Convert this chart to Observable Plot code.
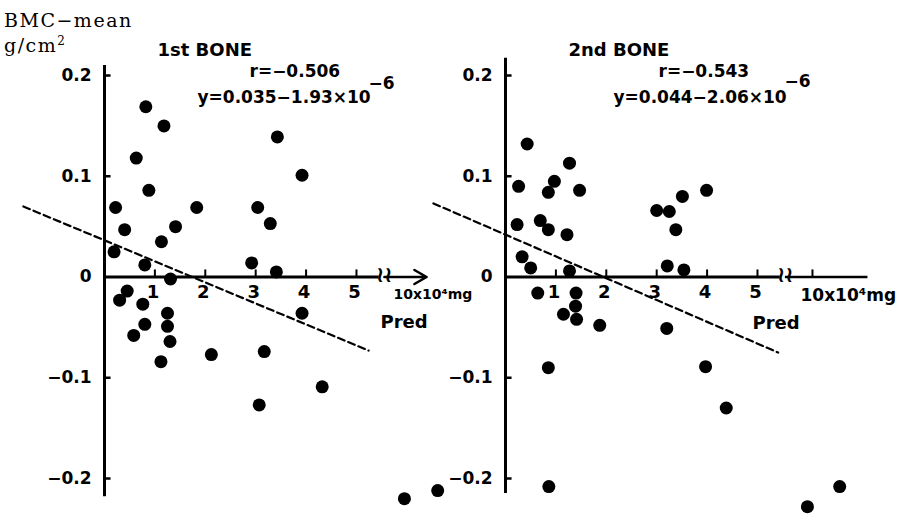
<!DOCTYPE html>
<html><head><meta charset="utf-8">
<script src="https://cdn.jsdelivr.net/npm/d3@7"></script>
<script src="https://cdn.jsdelivr.net/npm/@observablehq/plot@0.6"></script>
<style>
body{margin:0;background:#fff}
#wrap{position:relative;width:905px;height:515px;overflow:hidden;background:#fff}
#wrap svg{position:absolute;top:0;background:transparent;overflow:visible}
#ytitle{position:absolute;left:4px;top:8px;font-family:'DejaVu Serif','Liberation Serif',serif;font-size:19px;letter-spacing:1.5px;line-height:25px;color:#000;z-index:2}
#ytitle sup{font-size:12px;vertical-align:7px;line-height:0}
</style></head><body><div id="wrap"><div id="ytitle"></div></div>
<script>
// ---- text ----
const panelNames = ["1st BONE", "2nd BONE"];
const rLabels = ["r=−0.506", "r=−0.543"];
const eqLabels = ["y=0.035−1.93×10", "y=0.044−2.06×10"];
const eqExponent = "−6";
const yTitleLines = ["BMC−mean", "g/cm", "2"];
const xUnitLabel = "10x10⁴mg";
const xName = "Pred";
const xTicks = [1, 2, 3, 4, 5];
const xTickLabels = ["1", "2", "3", "4", "5"];
const yTicks = [0.2, 0.1, 0, -0.1, -0.2];
const yTickLabels = ["0.2", "0.1", "0", "−0.1", "−0.2"];

// ---- data: 1st bone ----
const bone1X = [0.82,1.18,3.43,0.63,3.92,0.88,0.22,1.83,3.04,0.40,1.41,3.29,1.13,0.19,0.80,2.92,3.41,1.31,0.45,0.30,0.76,1.25,3.92,0.80,1.25,0.58,1.30,1.12,2.12,3.17,4.32,3.07,9.86,10.52];
const bone1Y = [0.169,0.150,0.139,0.118,0.101,0.086,0.069,0.069,0.069,0.047,0.050,0.053,0.035,0.025,0.012,0.014,0.005,-0.002,-0.014,-0.023,-0.027,-0.036,-0.036,-0.047,-0.049,-0.058,-0.064,-0.084,-0.077,-0.074,-0.109,-0.127,-0.220,-0.212];
// ---- data: 2nd bone ----
const bone2X = [0.43,1.27,0.26,0.97,0.85,1.47,0.23,0.69,0.85,1.22,0.33,0.50,1.27,3.00,3.25,3.51,3.38,3.99,3.21,3.54,0.64,1.40,1.39,1.15,1.41,1.87,3.20,0.85,3.97,4.38,0.86,9.90,10.54];
const bone2Y = [0.132,0.113,0.090,0.095,0.084,0.086,0.052,0.056,0.047,0.042,0.020,0.009,0.006,0.066,0.065,0.080,0.047,0.086,0.011,0.007,-0.016,-0.016,-0.029,-0.037,-0.042,-0.048,-0.051,-0.090,-0.089,-0.130,-0.208,-0.228,-0.208];
// ---- regression lines (end points) ----
const fit1X = [-1.61, 5.24], fit1Y = [0.070, -0.073];
const fit2X = [-1.43, 5.41], fit2Y = [0.073, -0.075];

const series = [
  {xs: bone1X, ys: bone1Y, fx: fit1X, fy: fit1Y},
  {xs: bone2X, ys: bone2Y, fx: fit2X, fy: fit2Y}
];

// ---- layout (pixels) ----
const layout = [
  {left: 0, title: [157, 55], r: [249, 76], eq: [197, 102], exp: [368, 88], pred: [380, 327], unit: [393, 298], unitSize: 14, arrow: true, tick10: false, xEnd: 10.3, yTop: 0.21, yBot: -0.218},
  {left: 401, title: [167, 55], r: [257, 76], eq: [212, 102], exp: [383, 86], pred: [351, 328], unit: [399, 300], unitSize: 17, arrow: false, tick10: true, xEnd: 11.1, yTop: 0.217, yBot: -0.215}
];

document.getElementById("ytitle").innerHTML = yTitleLines[0] + "<br>" + yTitleLines[1] + "<sup>" + yTitleLines[2] + "</sup>";

const FONT = "'DejaVu Sans', 'Liberation Sans', Arial, sans-serif";
const lab = (s, x, y, o = {}) => Plot.text([s], {text: d => d, frameAnchor: "top-left", dx: x, dy: y,
  textAnchor: "start", lineAnchor: "bottom", fontSize: 17, fontWeight: "bold", fill: "black", ...o});

const wrap = document.getElementById("wrap");
series.forEach((s, p) => {
  const L = layout[p];
  const pts = s.xs.map((x, i) => ({x, y: s.ys[i]}));
  const fit = s.fx.map((x, i) => ({x, y: s.fy[i]}));
  const marks = [
    // axes
    Plot.ruleX([0], {y1: L.yBot, y2: L.yTop, strokeWidth: 3}),
    Plot.ruleY([0], {x1: 0, x2: 5.45, strokeWidth: 3}),
    L.arrow
      ? Plot.arrow([0], {x1: 5.66, x2: L.xEnd, y1: 0, y2: 0, strokeWidth: 2.5, headLength: 9})
      : Plot.ruleY([0], {x1: 5.66, x2: L.xEnd, strokeWidth: 2.5}),
    Plot.text(["≀≀"], {x: 5.55, y: 0, text: d => d, fontSize: 22, fontWeight: "bold", dy: -2}),
    Plot.ruleX(L.tick10 ? [...xTicks, 10] : xTicks, {x: d => d, y1: 0, y2: 0.007, strokeWidth: 2}),
    Plot.ruleY(yTicks.filter(d => d !== 0), {y: d => d, x1: 0, x2: 0.13, strokeWidth: 2.5}),
    Plot.text(xTicks, {x: d => d, y: 0, text: (d, i) => xTickLabels[i], dy: 15, dx: -2, fontSize: 18, fontWeight: "bold"}),
    Plot.text(yTicks, {x: 0, y: d => d, text: (d, i) => yTickLabels[i], textAnchor: "end", dx: -13, fontSize: 17, fontWeight: "bold"}),
    // regression line
    Plot.line(fit, {x: "x", y: "y", stroke: "black", strokeWidth: 2.2, strokeDasharray: "7,4"}),
    // points
    Plot.dot(pts, {x: "x", y: "y", r: 6.5, fill: "black", stroke: "none"}),
    // labels
    lab(panelNames[p], L.title[0], L.title[1], {fontSize: 18}),
    lab(rLabels[p], L.r[0], L.r[1]),
    lab(eqLabels[p], L.eq[0], L.eq[1]),
    lab(eqExponent, L.exp[0], L.exp[1]),
    lab(xName, L.pred[0], L.pred[1], {fontSize: 18}),
    lab(xUnitLabel, L.unit[0], L.unit[1], {fontSize: L.unitSize})
  ];
  const svg = Plot.plot({
    width: 504, height: 515, margin: 0,
    style: {fontFamily: FONT, background: "transparent", overflow: "visible", color: "black"},
    x: {type: "linear", domain: [0, 5.55, 9.6, 11], range: [104, 383.7, 390.8, 461.4], axis: null},
    y: {type: "linear", domain: [-0.2, 0.2], range: [478, 75], axis: null},
    marks
  });
  svg.style.left = L.left + "px";
  wrap.appendChild(svg);
});
</script></body></html>
